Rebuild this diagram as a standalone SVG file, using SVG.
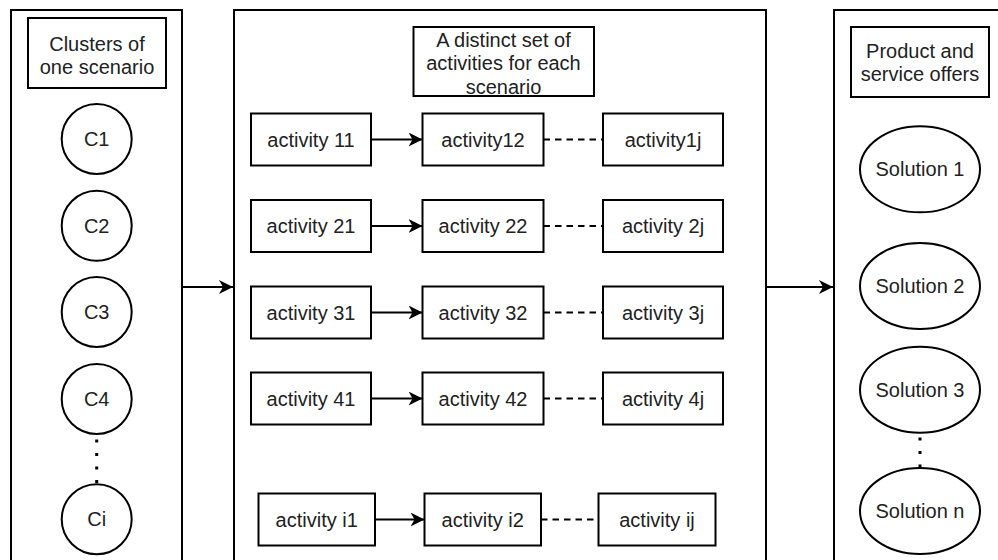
<svg xmlns="http://www.w3.org/2000/svg" width="998" height="560" viewBox="0 0 998 560">
<style>
.b{fill:#fff;stroke:#000;stroke-width:2}
.p{fill:none;stroke:#000;stroke-width:2}
.t{font-family:"Liberation Sans",Arial,sans-serif;font-size:20px;fill:#222;text-anchor:middle;dominant-baseline:central}
.a{fill:none;stroke:#000;stroke-width:2;marker-end:url(#ah)}
.d{fill:none;stroke:#000;stroke-width:2;stroke-dasharray:6.5 5}
.o{fill:none;stroke:#000;stroke-width:3;stroke-dasharray:3 10.5}
</style>
<defs>
<marker id="ah" markerUnits="userSpaceOnUse" markerWidth="16" markerHeight="16" refX="14" refY="7" orient="auto" viewBox="0 0 16 16">
<path d="M0,0 L14,7 L0,14 L4,7 Z" fill="#000"/>
</marker>
</defs>
<rect width="998" height="560" fill="#fff"/>
<g id="panel-left"><rect class="p" x="11" y="10" width="171" height="570"/></g>
<g id="panel-middle"><rect class="p" x="234" y="10" width="532" height="570"/></g>
<g id="panel-right"><rect class="p" x="834" y="10" width="200" height="570"/></g>

<g id="title-left"><rect class="b" x="28" y="18" width="138" height="70"/>
<text class="t" x="97" y="43.5">Clusters of</text><text class="t" x="97" y="66.5">one scenario</text></g>
<g id="title-middle"><rect class="b" x="413.5" y="27" width="180.5" height="69"/>
<text class="t" x="503.5" y="40">A distinct set of</text><text class="t" x="503.5" y="63.3">activities for each</text><text class="t" x="503.5" y="86.7">scenario</text></g>
<g id="title-right"><rect class="b" x="851" y="27" width="138" height="70"/>
<text class="t" x="920" y="50.5">Product and</text><text class="t" x="920" y="74">service offers</text></g>

<g id="c1"><circle class="b" cx="96.7" cy="139" r="35"/><text class="t" x="96.7" y="139">C1</text></g>
<g id="c2"><circle class="b" cx="96.7" cy="225.8" r="35"/><text class="t" x="96.7" y="225.8">C2</text></g>
<g id="c3"><circle class="b" cx="96.7" cy="312" r="35"/><text class="t" x="96.7" y="312">C3</text></g>
<g id="c4"><circle class="b" cx="96.7" cy="399" r="35"/><text class="t" x="96.7" y="399">C4</text></g>
<g id="ci"><circle class="b" cx="96.7" cy="519.3" r="35"/><text class="t" x="96.7" y="519.3">Ci</text></g>

<g id="a11"><rect class="b" x="251" y="113.5" width="120" height="52"/><text class="t" x="311" y="139.5">activity 11</text></g>
<g id="a12"><rect class="b" x="422.5" y="113.5" width="121" height="52"/><text class="t" x="483" y="139.5">activity12</text></g>
<g id="a1j"><rect class="b" x="603" y="113.5" width="120" height="52"/><text class="t" x="663" y="139.5">activity1j</text></g>

<g id="a21"><rect class="b" x="251" y="200" width="120" height="52"/><text class="t" x="311" y="226">activity 21</text></g>
<g id="a22"><rect class="b" x="422.5" y="200" width="121" height="52"/><text class="t" x="483" y="226">activity 22</text></g>
<g id="a2j"><rect class="b" x="603" y="200" width="120" height="52"/><text class="t" x="663" y="226">activity 2j</text></g>

<g id="a31"><rect class="b" x="251" y="286.5" width="120" height="52"/><text class="t" x="311" y="312.5">activity 31</text></g>
<g id="a32"><rect class="b" x="422.5" y="286.5" width="121" height="52"/><text class="t" x="483" y="312.5">activity 32</text></g>
<g id="a3j"><rect class="b" x="603" y="286.5" width="120" height="52"/><text class="t" x="663" y="312.5">activity 3j</text></g>

<g id="a41"><rect class="b" x="251" y="372.5" width="120" height="52"/><text class="t" x="311" y="398.5">activity 41</text></g>
<g id="a42"><rect class="b" x="422.5" y="372.5" width="121" height="52"/><text class="t" x="483" y="398.5">activity 42</text></g>
<g id="a4j"><rect class="b" x="603" y="372.5" width="120" height="52"/><text class="t" x="663" y="398.5">activity 4j</text></g>

<g id="ai1"><rect class="b" x="258.5" y="493.5" width="116.5" height="52"/><text class="t" x="316.7" y="519.5">activity i1</text></g>
<g id="ai2"><rect class="b" x="424.5" y="493.5" width="116.5" height="52"/><text class="t" x="482.7" y="519.5">activity i2</text></g>
<g id="aij"><rect class="b" x="598.5" y="493.5" width="117" height="52"/><text class="t" x="657" y="519.5">activity ij</text></g>

<g id="s1"><ellipse class="b" cx="920" cy="169.3" rx="60" ry="43"/><text class="t" x="920" y="169.3">Solution 1</text></g>
<g id="s2"><ellipse class="b" cx="920" cy="286" rx="60" ry="43"/><text class="t" x="920" y="286">Solution 2</text></g>
<g id="s3"><ellipse class="b" cx="920" cy="389.7" rx="60" ry="43"/><text class="t" x="920" y="389.7">Solution 3</text></g>
<g id="sn"><ellipse class="b" cx="920" cy="511" rx="60" ry="43"/><text class="t" x="920" y="511">Solution n</text></g>

<g id="connectors">
<line class="a" x1="182" y1="287" x2="233" y2="287"/>
<line class="a" x1="766" y1="287" x2="833" y2="287"/>
<line class="a" x1="371" y1="139.5" x2="422.5" y2="139.5"/>
<line class="a" x1="371" y1="226" x2="422.5" y2="226"/>
<line class="a" x1="371" y1="312.5" x2="422.5" y2="312.5"/>
<line class="a" x1="371" y1="398.5" x2="422.5" y2="398.5"/>
<line class="a" x1="375" y1="519.5" x2="424.5" y2="519.5"/>
<line class="d" x1="543.5" y1="139.5" x2="603" y2="139.5"/>
<line class="d" x1="543.5" y1="226" x2="603" y2="226"/>
<line class="d" x1="543.5" y1="312.5" x2="603" y2="312.5"/>
<line class="d" x1="543.5" y1="398.5" x2="603" y2="398.5"/>
<line class="d" x1="541" y1="519.5" x2="598.5" y2="519.5"/>
<line class="o" x1="96.7" y1="439.5" x2="96.7" y2="485"/>
<line class="o" x1="920" y1="437.5" x2="920" y2="468"/>
</g>
</svg>
